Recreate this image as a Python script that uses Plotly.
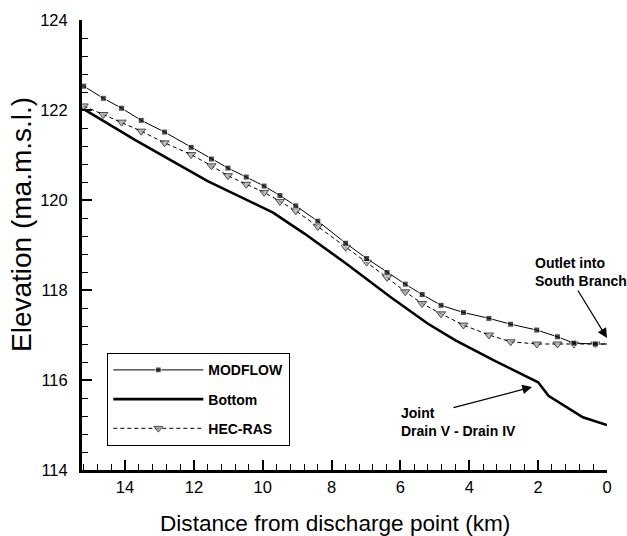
import plotly.graph_objects as go

# ---- data ----
modflow_km = [15.2, 14.63, 14.1, 13.53, 12.85, 12.08, 11.49, 11.01, 10.48, 9.96, 9.5,
              9.04, 8.4, 7.59, 6.98, 6.39, 5.86, 5.37, 4.82, 4.17, 3.43, 2.8, 2.04,
              1.44, 0.96, 0.34, 0.0]
modflow_elev = [122.53, 122.26, 122.04, 121.77, 121.51, 121.17, 120.91, 120.71, 120.51,
                120.31, 120.1, 119.87, 119.53, 119.04, 118.7, 118.39, 118.13, 117.9,
                117.66, 117.5, 117.37, 117.24, 117.11, 116.96, 116.82, 116.8, 116.8]

hecras_km = [15.2, 14.63, 14.1, 13.53, 12.85, 12.08, 11.49, 11.01, 10.48, 9.96, 9.5,
             9.04, 8.4, 7.59, 6.98, 6.39, 5.86, 5.37, 4.82, 4.17, 3.43, 2.8, 2.04,
             1.44, 0.96, 0.34, 0.0]
hecras_elev = [122.09, 121.9, 121.73, 121.53, 121.27, 121.01, 120.76, 120.54, 120.35,
               120.17, 119.97, 119.76, 119.41, 118.95, 118.62, 118.28, 117.96, 117.7,
               117.47, 117.22, 117.0, 116.85, 116.8, 116.8, 116.8, 116.8, 116.8]

bottom_km = [15.2, 13.7, 11.6, 9.7, 8.8, 7.6, 6.3, 5.2, 4.4, 3.3, 2.0, 1.7, 0.7, 0.0]
bottom_elev = [122.02, 121.33, 120.42, 119.72, 119.26, 118.6, 117.85, 117.25, 116.88,
               116.44, 115.95, 115.65, 115.17, 115.0]

x_ticks = [0, 2, 4, 6, 8, 10, 12, 14]
y_ticks = [114, 116, 118, 120, 122, 124]

FONT = "Liberation Sans, Arial, Helvetica, sans-serif"

# marker only on measured points, not on the line's end at the outlet
mod_sizes = [6] * (len(modflow_km) - 1) + [0]
hec_sizes = [8] * (len(hecras_km) - 1) + [0]

fig = go.Figure()
fig.add_trace(go.Scatter(
    x=bottom_km, y=bottom_elev, mode="lines", name="Bottom",
    line=dict(color="black", width=2.6), legendrank=2, legendgroup="b"))
fig.add_trace(go.Scatter(
    x=hecras_km, y=hecras_elev, mode="lines+markers", name="HEC-RAS",
    line=dict(color="black", width=1, dash="4px,3px"),
    marker=dict(symbol="triangle-down", size=hec_sizes, color="#a0a0a0",
                line=dict(color="black", width=1)),
    legendrank=3, legendgroup="c"))
fig.add_trace(go.Scatter(
    x=modflow_km, y=modflow_elev, mode="lines+markers", name="MODFLOW",
    line=dict(color="black", width=1),
    marker=dict(symbol="square", size=mod_sizes, color="black"),
    legendrank=1, legendgroup="a"))

axis_common = dict(
    showline=True, linecolor="black", linewidth=3, mirror=False,
    ticks="inside", ticklen=10, tickwidth=2, tickcolor="black",
    showgrid=False, zeroline=False,
    tickfont=dict(family=FONT, size=16.5, color="black"),
    minor=dict(ticks="inside", ticklen=6, tickwidth=1.3, tickcolor="black",
               dtick=0.4, tick0=0, showgrid=False),
)

fig.update_layout(
    width=627, height=536,
    margin=dict(l=82, r=20, t=20, b=66),
    paper_bgcolor="white", plot_bgcolor="white",
    font=dict(family=FONT, color="black"),
    xaxis=dict(range=[15.25, 0], tickvals=x_ticks, **axis_common),
    yaxis=dict(range=[114, 124], tickvals=y_ticks, ticklabelstandoff=8, **axis_common),
    legend=dict(
        x=(107 - 82) / 525, y=(470 - 353) / 450, xanchor="left", yanchor="top",
        bordercolor="black", borderwidth=1.3, bgcolor="white",
        font=dict(family=FONT, size=14, color="black", weight="bold"),
        itemwidth=90, tracegroupgap=8, traceorder="grouped",
        entrywidth=110, entrywidthmode="pixels",
    ),
    showlegend=True,
)

ann = []
# axis titles
ann.append(dict(text="Elevation (ma.m.s.l.)", xref="paper", yref="paper",
                x=(21 - 82) / 525, y=(470 - 225) / 450, textangle=-90,
                showarrow=False, font=dict(size=28, family=FONT),
                xanchor="center", yanchor="middle"))
ann.append(dict(text="Distance from discharge point (km)", xref="paper", yref="paper",
                x=(335 - 82) / 525, y=(470 - 523) / 450,
                showarrow=False, font=dict(size=22.6, family=FONT),
                xanchor="center", yanchor="middle"))
# labels
bold = dict(size=14, family=FONT, weight="bold", color="black")
ann.append(dict(text="Outlet into<br>South Branch", x=2.14, y=124 - (272 - 20) / 45,
                showarrow=False, xanchor="left", yanchor="middle", align="left",
                font=bold))
ann.append(dict(text="Joint<br>Drain V - Drain IV", x=6.04, y=124 - (422 - 20) / 45,
                showarrow=False, xanchor="left", yanchor="middle", align="left",
                font=bold))
# arrows
ann.append(dict(text="", x=0.0, y=124 - (338 - 20) / 45, ax=-30, ay=-49,
                showarrow=True, arrowhead=2, arrowsize=1.6, arrowwidth=1.2,
                arrowcolor="black", standoff=0))
ann.append(dict(text="", x=2.18, y=124 - (387 - 20) / 45, ax=-80, ay=21,
                showarrow=True, arrowhead=2, arrowsize=1.6, arrowwidth=1.2,
                arrowcolor="black", standoff=0))
fig.update_layout(annotations=ann)

fig.write_html("out.html")
